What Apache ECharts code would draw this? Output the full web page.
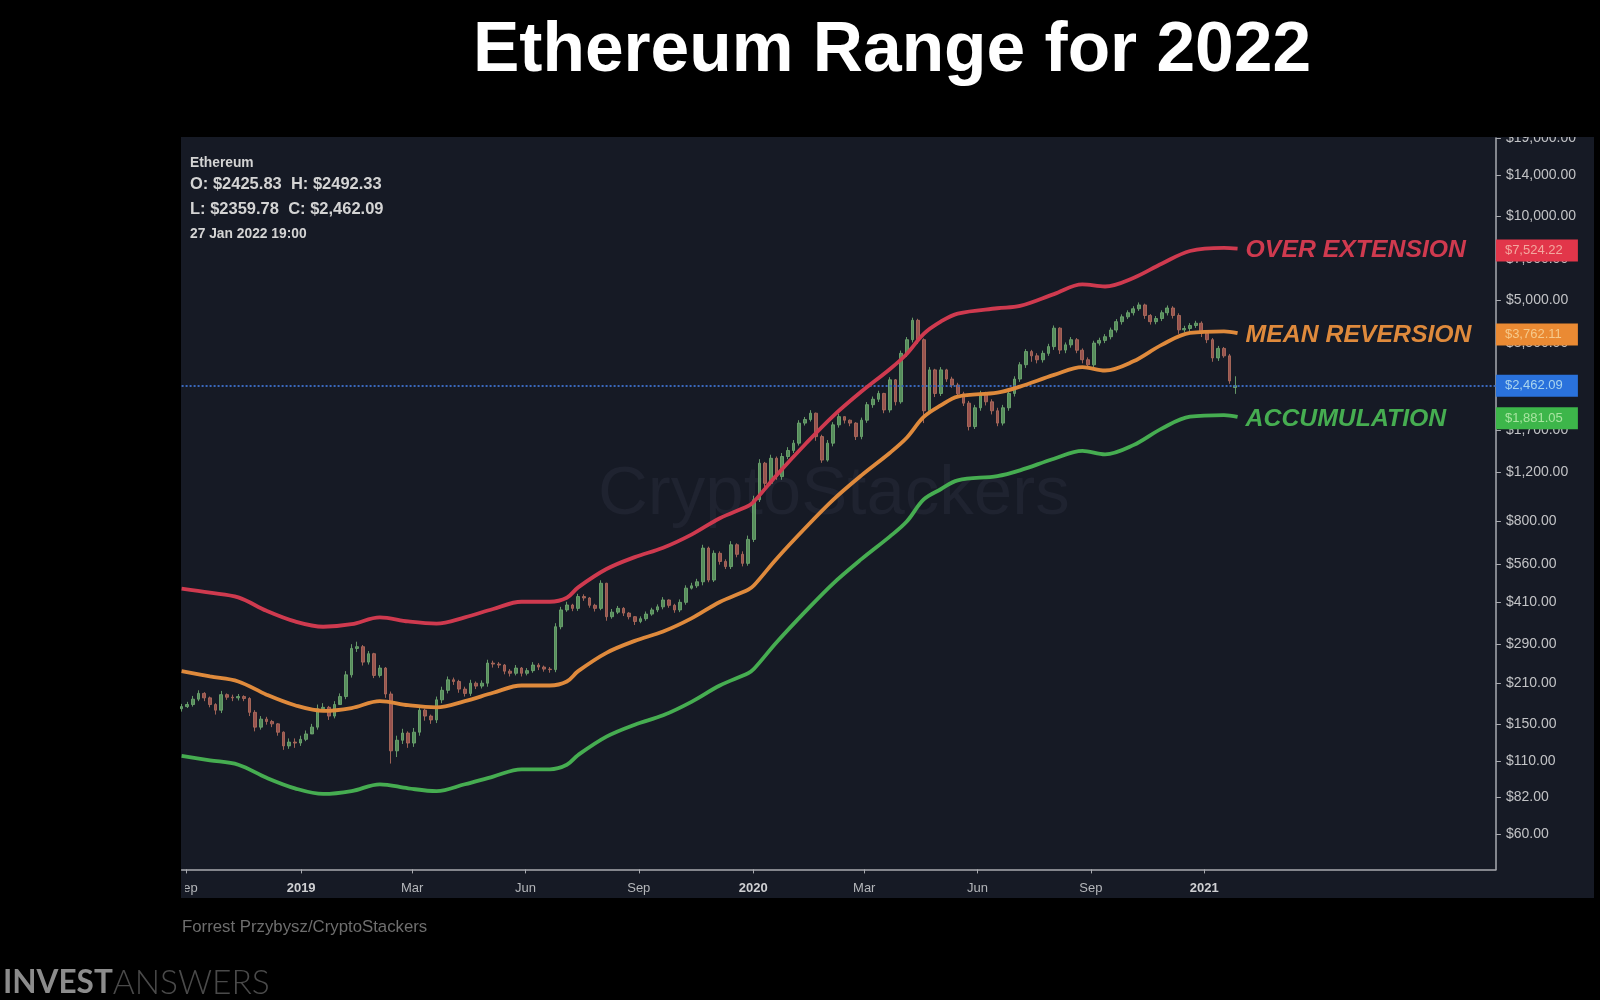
<!DOCTYPE html>
<html>
<head>
<meta charset="utf-8">
<title>Ethereum Range for 2022</title>
<script src="https://cdn.jsdelivr.net/npm/echarts@6/dist/echarts.min.js"></script>
<style>
  html, body { margin: 0; padding: 0; background: #000; }
  #main { width: 1600px; height: 1000px; filter: blur(0.5px); }
</style>
</head>
<body>
<div id="main"></div>
<script>
// x axis is counted in candles, labels do not fall exactly on a candle
var xTickIndex = [0.8, 21.1, 40.7, 60.7, 80.7, 100.9, 120.5, 140.5, 160.5, 180.5];
var xTickLabels = ['Sep', '2019', 'Mar', 'Jun', 'Sep', '2020', 'Mar', 'Jun', 'Sep', '2021'];
var xMax = 232;

var yTicks = [60, 82, 110, 150, 210, 290, 410, 560, 800, 1200, 1700, 3500, 5000, 7000, 10000, 14000, 19000];

// candles
var candleOpen = [
  170,173,176,184,193,186,176,168,191,187,
  186,188,185,165,146,156,153,150,140,125,
  129,128,132,138,146,170,172,160,176,188,
  225,280,284,250,268,224,238,192,120,131,
  139,128,140,168,160,155,183,198,216,213,
  200,193,210,205,210,248,246,244,232,228,
  238,228,233,244,240,236,235,335,385,401,
  390,430,425,400,390,480,364,378,390,375,
  364,350,358,372,385,395,418,400,385,410,
  461,470,486,642,493,615,575,551,660,610,
  566,690,958,1296,1097,1350,1160,1370,1440,1530,
  1806,1860,1960,1615,1330,1530,1780,1905,1850,1806,
  1615,1850,2103,2200,2308,2014,2583,2154,3216,3600,
  4226,3600,2000,2805,2308,2805,2600,2475,2300,2130,
  1755,2050,2308,2154,2000,1806,2050,2308,2600,2927,
  3264,3150,3050,3216,3400,3961,3304,3450,3600,3300,
  3050,2925,3500,3580,3690,3900,4180,4350,4500,4650,
  4800,4400,4180,4290,4500,4680,4400,3906,3950,4050,
  4126,3800,3600,3096,3350,3150,2426
];
var candleClose = [
  173,176,184,193,186,176,168,191,187,186,
  188,185,165,146,156,153,150,140,125,129,
  128,132,138,146,170,172,160,176,188,225,
  280,284,250,268,224,238,192,120,131,139,
  128,140,168,160,155,183,198,216,213,200,
  193,210,205,210,248,246,244,232,228,238,
  228,233,244,240,236,235,335,385,401,390,
  430,425,400,390,480,364,378,390,375,364,
  350,358,372,385,395,418,400,385,410,461,
  470,486,642,493,615,575,551,660,610,566,
  690,958,1296,1097,1350,1160,1370,1440,1530,1806,
  1860,1960,1615,1330,1530,1780,1905,1850,1806,1615,
  1850,2103,2200,2308,2014,2583,2154,3216,3600,4226,
  3600,2000,2805,2308,2805,2600,2475,2300,2130,1755,
  2050,2308,2154,2000,1806,2050,2308,2600,2927,3264,
  3150,3050,3216,3400,3961,3304,3450,3600,3300,3050,
  2925,3500,3580,3690,3900,4180,4350,4500,4650,4800,
  4400,4180,4290,4500,4680,4400,3906,3950,4050,4126,
  3800,3600,3096,3350,3150,2560,2462
];
var candleHigh = [
  177,180,189,198,195,188,178,197,193,191,
  192,190,187,168,160,159,155,151,141,133,
  133,136,142,150,176,178,174,181,193,232,
  290,296,288,274,270,244,240,196,136,144,
  141,145,173,170,162,188,204,222,220,216,
  204,216,213,215,255,253,250,246,236,244,
  240,238,250,248,243,240,345,395,412,405,
  440,438,428,405,492,482,388,398,394,378,
  366,365,380,392,403,428,420,405,420,472,
  482,498,660,650,630,625,585,680,668,625,
  712,990,1340,1310,1390,1370,1410,1480,1570,1850,
  1900,2010,1970,1640,1570,1820,1950,1910,1860,1820,
  1890,2150,2250,2360,2320,2640,2600,3290,3680,4320,
  4280,3640,2870,2830,2870,2830,2650,2520,2340,2170,
  2100,2360,2340,2200,2050,2100,2360,2660,2990,3330,
  3310,3220,3290,3480,4050,3990,3520,3680,3650,3350,
  3110,3570,3660,3770,3980,4270,4440,4590,4750,4900,
  4850,4450,4380,4590,4780,4750,4480,4040,4130,4210,
  4190,3880,3650,3420,3390,3200,2660
];
var candleLow = [
  166,171,173,181,181,172,162,164,183,181,
  182,181,160,141,143,149,146,136,121,122,
  123,125,130,140,143,166,155,157,183,184,
  220,272,243,245,219,220,186,108,114,127,
  123,124,136,154,150,151,178,193,207,194,
  188,189,200,201,204,239,238,226,222,224,
  222,224,229,234,231,229,230,328,379,381,
  382,415,392,380,384,352,358,372,366,356,
  340,345,352,367,378,387,392,376,378,402,
  456,462,472,484,485,560,540,540,595,552,
  555,675,940,1060,1080,1130,1130,1340,1410,1500,
  1770,1830,1560,1300,1313,1490,1740,1800,1760,1570,
  1580,1810,2050,2150,1960,1970,2090,2120,3120,3520,
  3480,1806,1950,2240,2260,2540,2420,2240,2080,1700,
  1720,2000,2090,1940,1760,1770,2000,2250,2540,2850,
  3000,2960,2980,3150,3310,3200,3220,3370,3220,2960,
  2840,2840,3430,3500,3610,3820,4080,4270,4400,4570,
  4280,4080,4090,4200,4400,4290,3780,3820,3860,3970,
  3680,3500,3000,3020,3100,2500,2300
];

// the three bands, read at these candle positions
var bandIndex = [0,5,10,15,20,25,30,35,40,45,50,55,60,65,68,70,75,80,85,90,95,100,101,105,110,115,120,125,128,131,134,137,144,148,154,159,163,168,173,178,184,186.4];
var overExtension = [459,444,427,382,350,335,342,362,350,344,362,388,412,412,426,464,540,596,644,718,822,910,942,1172,1510,1914,2344,2820,3200,3780,4180,4470,4670,4760,5250,5690,5590,6000,6750,7500,7700,7650];
var meanReversion = [232,222,213,191,175,167,171,181,175,172,181,194,206,206,213,232,270,298,322,359,411,455,471,587,755,957,1172,1411,1600,1900,2090,2250,2325,2443,2690,2870,2790,3010,3450,3810,3860,3800];
var accumulation = [115,111,107,96,88,84,86,91,88,86,91,97,103,103,107,116,135,149,161,180,206,228,236,294,378,479,586,706,800,960,1045,1125,1165,1222,1345,1435,1395,1505,1725,1905,1930,1900];

// price tags on the axis
var lastPrice = 2462.09;
var tagValues = [7524.22, 3762.11, 2462.09, 1881.05];
var tagStyles = ['red', 'orange', 'blue', 'green'];

var myChart = echarts.init(document.getElementById('main'));

function money(v) {
  return '$' + v.toLocaleString('en-US', { minimumFractionDigits: 2, maximumFractionDigits: 2 });
}

function bandSeries(name, values, color) {
  return {
    name: name,
    type: 'line',
    data: bandIndex.map(function (x, i) { return [x, values[i]]; }),
    smooth: 0.35,
    showSymbol: false,
    lineStyle: { color: color, width: 3.8 },
    endLabel: {
      show: true,
      formatter: name,
      distance: 8,
      offset: [0, 2],
      color: color,
      fontFamily: 'Liberation Sans',
      fontSize: 24.8,
      fontWeight: 'bold',
      fontStyle: 'italic'
    },
    z: 5
  };
}

function tagRich(bg, fg) {
  return { backgroundColor: bg, color: fg, width: 70, height: 20, lineHeight: 20, padding: [1, 3, 1, 9], fontSize: 13, align: 'left' };
}

var candles = candleOpen.map(function (o, i) {
  return [i, o, candleClose[i], candleLow[i], candleHigh[i]];
});

var option = {
  backgroundColor: '#000',
  animation: false,
  title: [
    { text: 'Ethereum Range for 2022', left: 887, top: 12, textAlign: 'center',
      textStyle: { color: '#fff', fontFamily: 'Liberation Sans', fontSize: 69.5, fontWeight: 'bold' } },
    { text: 'Ethereum', left: 185, top: 151,
      textStyle: { color: '#d4d4d4', fontFamily: 'Liberation Sans', fontSize: 13.8, fontWeight: 'bold' } },
    { text: 'O: $2425.83  H: $2492.33', left: 185, top: 171,
      textStyle: { color: '#d4d4d4', fontFamily: 'Liberation Sans', fontSize: 16.5, fontWeight: 'bold' } },
    { text: 'L: $2359.78  C: $2,462.09', left: 185, top: 196,
      textStyle: { color: '#d4d4d4', fontFamily: 'Liberation Sans', fontSize: 16.5, fontWeight: 'bold' } },
    { text: '27 Jan 2022 19:00', left: 185, top: 222,
      textStyle: { color: '#d4d4d4', fontFamily: 'Liberation Sans', fontSize: 13.8, fontWeight: 'bold' } },
    { text: 'Forrest Przybysz/CryptoStackers', left: 177, top: 914,
      textStyle: { color: '#6e6e6e', fontFamily: 'Liberation Sans', fontSize: 16.8, fontWeight: 'normal' } },
    { text: '{a|INVEST}{b|ANSWERS}', left: -2, top: 961,
      textStyle: { rich: {
        a: { color: '#8c8c8c', fontFamily: 'Lato', fontSize: 31.5, fontWeight: 'bold' },
        b: { color: '#4a4a4a', fontFamily: 'Lato', fontSize: 33.5, fontWeight: 300 }
      } } }
  ],
  graphic: [
    { type: 'rect', z: -1, silent: true, shape: { x: 181, y: 137, width: 1413, height: 761 }, style: { fill: '#161a25' } },
    { type: 'text', z: -1, silent: true, x: 598, y: 460,
      style: { text: 'CryptoStackers', fill: '#1f2330', font: '69px "Liberation Sans"' } },
    // labels are cut by the panel edge in the original
    { type: 'rect', z: 100, silent: true, shape: { x: 0, y: 876, width: 181, height: 24 }, style: { fill: '#000' } },
    { type: 'rect', z: 100, silent: true, shape: { x: 181, y: 876, width: 4, height: 22 }, style: { fill: '#161a25' } },
    { type: 'rect', z: 100, silent: true, shape: { x: 1490, y: 122, width: 110, height: 15 }, style: { fill: '#000' } }
  ],
  grid: { left: 181.6, top: 138, width: 1314.3, height: 731.4, containLabel: false },
  xAxis: {
    type: 'value',
    min: 0,
    max: xMax,
    axisLine: { show: true, onZero: false, lineStyle: { color: '#a9abb0', width: 1.5 } },
    axisTick: { show: true, length: 4, lineStyle: { color: '#a9abb0' }, customValues: xTickIndex },
    splitLine: { show: false },
    axisLabel: {
      color: '#b4b6ba',
      fontFamily: 'Liberation Sans',
      fontSize: 13,
      margin: 13,
      customValues: xTickIndex,
      formatter: function (v) {
        var s = xTickLabels[xTickIndex.indexOf(v)];
        return /^\d/.test(s) ? '{y|' + s + '}' : s;
      },
      rich: { y: { color: '#cfd0d3', fontFamily: 'Liberation Sans', fontSize: 13, fontWeight: 'bold' } }
    }
  },
  yAxis: [
    {
      type: 'log',
      position: 'right',
      min: 45,
      max: 19100,
      splitLine: { show: false },
      axisLine: { show: true, onZero: false, lineStyle: { color: '#a9abb0', width: 1.5 } },
      axisTick: { show: true, length: 5, lineStyle: { color: '#a9abb0' }, customValues: yTicks },
      axisLabel: {
        color: '#c2c3c6', fontFamily: 'Liberation Sans', fontSize: 14, margin: 10,
        padding: [3, 0, 0, 0],
        customValues: yTicks,
        formatter: function (v) { return money(v); }
      }
    },
    {
      type: 'log',
      position: 'right',
      min: 45,
      max: 19100,
      splitLine: { show: false },
      axisLine: { show: false, onZero: false },
      axisTick: { show: false },
      axisLabel: {
        margin: 0,
        fontFamily: 'Liberation Sans',
        customValues: tagValues,
        formatter: function (v) {
          var k = 0, best = Infinity;
          tagValues.forEach(function (t, j) {
            if (Math.abs(t - v) < best) { best = Math.abs(t - v); k = j; }
          });
          return '{' + tagStyles[k] + '|' + money(tagValues[k]) + '}';
        },
        rich: {
          red: tagRich('#e2364a', '#f3a89f'),
          orange: tagRich('#ea8a33', '#f6c98a'),
          blue: tagRich('#2a72dc', '#a9d4ee'),
          green: tagRich('#3db64a', '#a8e4a0')
        }
      }
    }
  ],
  series: [
    {
      name: 'Ethereum',
      type: 'candlestick',
      data: candles,
      encode: { x: 0, y: [1, 2, 3, 4] },
      barWidth: 3.2,
      itemStyle: {
        color: '#5d9a63', color0: '#a65a54',
        borderColor: '#6da56f', borderColor0: '#ac6a5c',
        borderWidth: 1, opacity: 0.9
      },
      markLine: {
        silent: true,
        symbol: 'none',
        label: { show: false },
        lineStyle: { color: '#3a68bc', type: 'dotted', width: 2 },
        data: [{ yAxis: lastPrice }]
      },
      z: 3
    },
    bandSeries('OVER EXTENSION', overExtension, '#cf3a4f'),
    bandSeries('MEAN REVERSION', meanReversion, '#df8a3c'),
    bandSeries('ACCUMULATION', accumulation, '#46ad51')
  ]
};

myChart.setOption(option);
</script>
</body>
</html>
